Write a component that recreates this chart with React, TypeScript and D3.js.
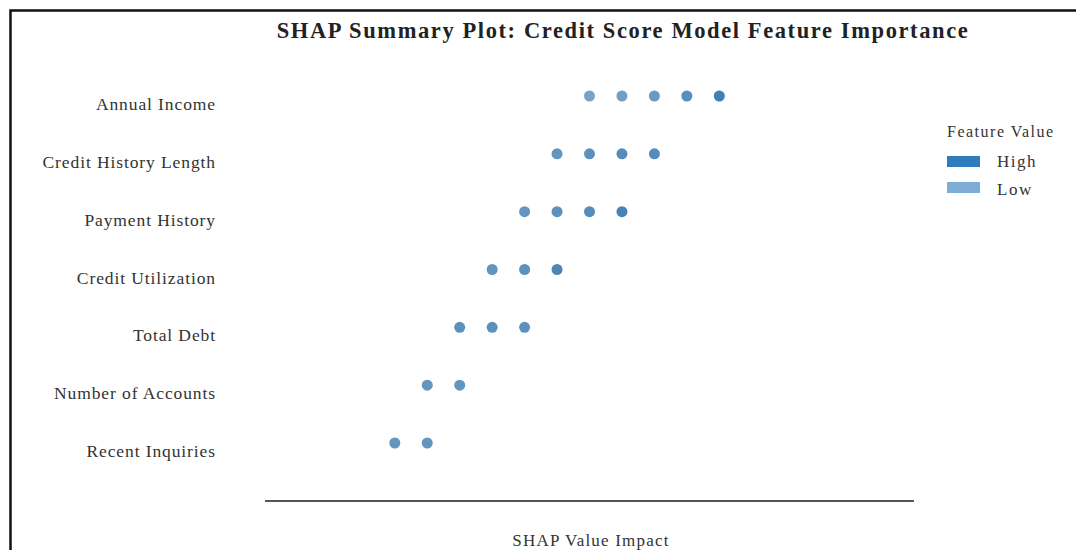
import React from "react";
import * as d3 from "d3";

const features = [
  "Annual Income",
  "Credit History Length",
  "Payment History",
  "Credit Utilization",
  "Total Debt",
  "Number of Accounts",
  "Recent Inquiries",
];

const shapValues: number[][] = [
  [0.0, 0.1, 0.2, 0.3, 0.4],
  [-0.1, 0.0, 0.1, 0.2],
  [-0.2, -0.1, 0.0, 0.1],
  [-0.3, -0.2, -0.1],
  [-0.4, -0.3, -0.2],
  [-0.5, -0.4],
  [-0.6, -0.5],
];

const featureValues: number[][] = [
  [0.2, 0.3, 0.4, 0.65, 1.0],
  [0.5, 0.6, 0.7, 0.7],
  [0.5, 0.6, 0.7, 0.9],
  [0.5, 0.6, 0.8],
  [0.6, 0.6, 0.6],
  [0.5, 0.5],
  [0.5, 0.5],
];

const legendLabels = ["High", "Low"];
const legendColors = ["#2f7dbf", "#7eaed8"];

const W = 1076;
const H = 550;

export default function App() {
  const x = d3.scaleLinear().domain([-1, 1]).range([265, 914]);
  const y = d3.scalePoint<string>().domain(features).range([96, 443]);
  const color = d3
    .scaleLinear<string>()
    .domain([0, 1])
    .range(["#7aa2c6", "#2a70ae"])
    .interpolate(d3.interpolateRgb);

  const font = "'Liberation Serif', 'Times New Roman', serif";

  return (
    <svg
      width={W}
      height={H}
      style={{ position: "absolute", left: 0, top: 0, display: "block" }}
      fontFamily={font}
    >
      <rect x={0} y={0} width={W} height={H} fill="#fff" />
      <rect x={10.5} y={10.5} width={1200} height={700} fill="none" stroke="#111" strokeWidth={2.5} />
      <text
        x={623}
        y={38}
        textAnchor="middle"
        fontSize={22.5}
        fontWeight="bold"
        letterSpacing={1.6}
        fill="#222"
      >
        SHAP Summary Plot: Credit Score Model Feature Importance
      </text>
      {features.map((f) => (
        <text
          key={f}
          x={216}
          y={(y(f) ?? 0) + 14}
          textAnchor="end"
          fontSize={17.5}
          letterSpacing={0.9}
          fill="#333"
        >
          {f}
        </text>
      ))}
      {features.map((f, i) =>
        shapValues[i].map((v, j) => (
          <circle
            key={f + j}
            cx={x(v)}
            cy={y(f)}
            r={5.5}
            fill={color(featureValues[i][j])}
            fillOpacity={0.9}
          />
        ))
      )}
      <line x1={x(-1)} x2={x(1)} y1={501} y2={501} stroke="#555" strokeWidth={2.2} />
      <text
        x={591}
        y={546}
        textAnchor="middle"
        fontSize={17}
        letterSpacing={1.2}
        fill="#333"
      >
        SHAP Value Impact
      </text>
      <text x={947} y={137} fontSize={16} letterSpacing={1.5} fill="#333">
        Feature Value
      </text>
      {legendLabels.map((l, i) => (
        <g key={l}>
          <rect x={947} y={156 + i * 26} width={33} height={11} fill={legendColors[i]} />
          <text x={997} y={167 + i * 27.5} fontSize={17} letterSpacing={1.5} fill="#333">
            {l}
          </text>
        </g>
      ))}
    </svg>
  );
}
